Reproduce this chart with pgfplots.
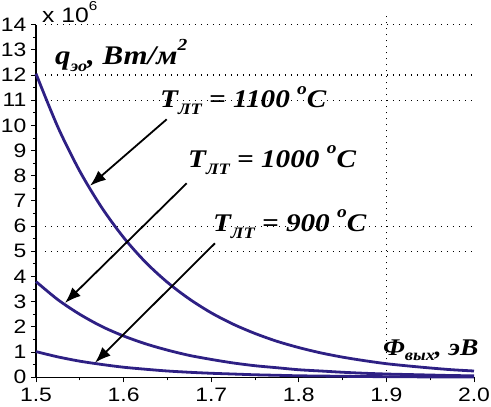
\documentclass[border=0pt]{standalone}
\usepackage{pgfplots}
\pgfplotsset{compat=1.18}
\usepackage{fontspec}
\setmainfont{Liberation Sans}[FakeStretch=1.18]
\newfontfamily\tnr{Liberation Serif}[FakeStretch=1.15]
\usetikzlibrary{arrows.meta}

\definecolor{curve}{RGB}{46,32,132}

% bold italic serif for the annotations
\newcommand{\lbl}[1]{{\tnr\bfseries\itshape\fontsize{25.5}{25.5}\selectfont #1}}
\newcommand{\lo}[1]{\raisebox{-0.25em}{\fontsize{16}{16}\selectfont #1}}
\newcommand{\hi}[1]{\raisebox{0.55em}{\fontsize{17}{17}\selectfont #1}}

\begin{document}
\begin{tikzpicture}
\path[use as bounding box] (-36bp,-29.7bp) rectangle (455bp,377.3bp);
\begin{axis}[
    scale only axis,
    width=438bp, height=352.7bp,
    xmin=1.5, xmax=2.0,
    ymin=0, ymax=14,
    axis x line=bottom, axis y line=left,
    axis line style={-, line width=1.2bp, black},
    xtick={1.5,1.6,...,2.0},
    ytick={0,1,...,14},
    minor x tick num=1, minor y tick num=1,
    tick align=outside,
    major tick length=5bp, minor tick length=3bp,
    tick style={black, line width=0.9bp},
    xticklabel style={yshift=-2.5bp, /pgf/number format/.cd, fixed, fixed zerofill, precision=1},
    yticklabel style={xshift=-1bp},
    scaled y ticks=false,
    ticklabel style={font=\fontsize{19.5}{19.5}\selectfont},
    /pgf/number format/assume math mode=true,
    clip=false,
]
% dotted grid lines as in the original
\foreach \g in {5,6,11,12,14} {
  \edef\tmp{\noexpand\draw[black, line width=1.2bp, dash pattern=on 1.2bp off 4.8bp]
    (axis cs:1.51,\g) -- (axis cs:2.0,\g);}\tmp
}
\draw[black, line width=1.2bp, dash pattern=on 1.2bp off 4.8bp]
  (axis cs:1.9,0) -- (axis cs:1.9,14.4);

% T = 1100 C
\addplot[curve, line width=2.8bp, smooth] coordinates {
  (1.500,12.05) (1.525,9.93) (1.550,8.18) (1.575,6.74) (1.600,5.55)
  (1.625,4.57) (1.650,3.77) (1.675,3.11) (1.700,2.56) (1.725,2.11)
  (1.750,1.74) (1.775,1.43) (1.800,1.18) (1.825,0.97) (1.850,0.80)
  (1.875,0.66) (1.900,0.54) (1.925,0.45) (1.950,0.37) (1.975,0.30)
  (2.000,0.25)
};
% T = 1000 C
\addplot[curve, line width=2.8bp, smooth] coordinates {
  (1.500,3.80) (1.525,3.08) (1.550,2.50) (1.575,2.02) (1.600,1.64)
  (1.625,1.33) (1.650,1.08) (1.675,0.87) (1.700,0.71) (1.725,0.57)
  (1.750,0.46) (1.775,0.38) (1.800,0.30) (1.825,0.25) (1.850,0.20)
  (1.875,0.16) (1.900,0.13) (1.925,0.11) (1.950,0.09) (1.975,0.07)
  (2.000,0.06)
};
% T = 900 C
\addplot[curve, line width=2.8bp, smooth] coordinates {
  (1.500,1.02) (1.525,0.81) (1.550,0.64) (1.575,0.51) (1.600,0.40)
  (1.625,0.32) (1.650,0.25) (1.675,0.20) (1.700,0.16) (1.725,0.13)
  (1.750,0.10) (1.775,0.08) (1.800,0.06) (1.825,0.05) (1.850,0.04)
  (1.875,0.03) (1.900,0.025) (1.925,0.02) (1.950,0.015) (1.975,0.012)
  (2.000,0.01)
};

% arrows
\draw[-{Latex[length=16bp,width=12bp]}, line width=1.8bp, black]
  (axis cs:1.6492,10.24) -- (axis cs:1.5616,7.6);
\draw[-{Latex[length=16bp,width=12bp]}, line width=1.8bp, black]
  (axis cs:1.672,7.70) -- (axis cs:1.5331,2.95);
\draw[-{Latex[length=16bp,width=12bp]}, line width=1.8bp, black]
  (axis cs:1.7043,5.32) -- (axis cs:1.5674,0.58);

% texts
\node[anchor=base west, inner sep=0pt, font=\fontsize{21}{21}\selectfont]
  at (axis cs:1.5068,14.10) {x 10\raisebox{0.55em}{\fontsize{13}{13}\selectfont 6}};
\node[anchor=base west, inner sep=0pt] at (axis cs:1.5217,12.40)
  {{\tnr\bfseries\itshape\fontsize{27}{27}\selectfont q\lo{эо}, Вт/м\hi{2}}};
\node[anchor=base west, inner sep=0pt] at (axis cs:1.6416,10.69)
  {\lbl{T\lo{ЛТ} = 1100 \hi{o}C}};
\node[anchor=base west, inner sep=0pt] at (axis cs:1.6735,8.31)
  {\lbl{T\lo{ЛТ} = 1000 \hi{o}C}};
\node[anchor=base west, inner sep=0pt] at (axis cs:1.702,5.77)
  {\lbl{T\lo{ЛТ} = 900 \hi{o}C}};
\node[anchor=base west, inner sep=0pt] at (axis cs:1.8961,0.885)
  {{\tnr\bfseries\itshape\fontsize{24}{24}\selectfont Φ\lo{вых}, эВ}};
\end{axis}
\end{tikzpicture}
\end{document}
